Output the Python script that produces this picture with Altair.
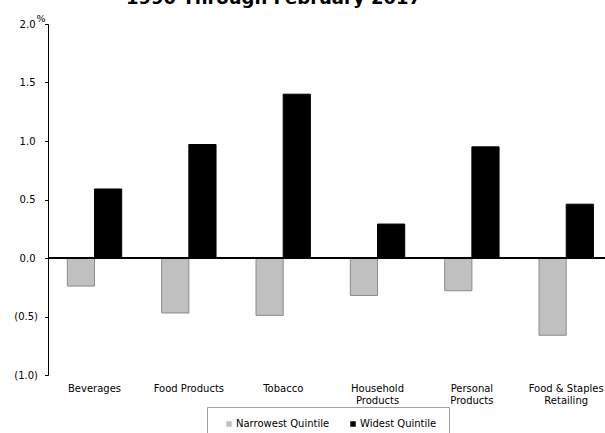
import altair as alt
import pandas as pd

# Sector categories and average monthly relative returns (%) by quintile
categories = [
    "Beverages",
    "Food Products",
    "Tobacco",
    "Household Products",
    "Personal Products",
    "Food & Staples Retailing",
]
narrowest = [-0.24, -0.47, -0.49, -0.32, -0.28, -0.66]
widest = [0.59, 0.97, 1.40, 0.29, 0.95, 0.46]
series_names = ["Narrowest Quintile", "Widest Quintile"]
series_colors = ["#c0c0c0", "#000000"]
series_strokes = ["#8a8a8a", "#000000"]
y_ticks = [-1.0, -0.5, 0.0, 0.5, 1.0, 1.5, 2.0]

# Two-line tick labels for the longer category names
label_lines = {
    "Household Products": ["Household", "Products"],
    "Personal Products": ["Personal", "Products"],
    "Food & Staples Retailing": ["Food & Staples", "Retailing"],
}

rows = []
for cat, n, w in zip(categories, narrowest, widest):
    rows.append({"sector": cat, "series": series_names[0], "value": n})
    rows.append({"sector": cat, "series": series_names[1], "value": w})
df = pd.DataFrame(rows)

label_expr = ""
for k, v in label_lines.items():
    label_expr += f"datum.label == '{k}' ? ['{v[0]}', '{v[1]}'] : "
label_expr += "datum.label"

FONT = "DejaVu Sans"

x_enc = alt.X(
    "sector:N",
    sort=categories,
    scale=alt.Scale(paddingInner=0.4234, paddingOuter=0.1637, align=0.625),
    axis=alt.Axis(
        title=None,
        labelAngle=0,
        domain=False,
        ticks=False,
        labelPadding=8,
        labelFontSize=10,
        labelLineHeight=12.7,
        labelExpr=label_expr,
        labelColor="black",
        labelFont=FONT,
    ),
)

y_enc = alt.Y(
    "value:Q",
    scale=alt.Scale(domain=[-1.0, 2.0], nice=False, zero=False),
    axis=alt.Axis(
        title="%",
        titleAngle=0,
        titleFontSize=9.5,
        titleFontWeight="normal",
        titleFont=FONT,
        titleColor="black",
        titleX=-12,
        titleY=-3,
        titleAlign="left",
        titleBaseline="alphabetic",
        values=y_ticks,
        labelExpr="datum.value < 0 ? '(' + format(-datum.value, '.1f') + ')' : format(datum.value, '.1f')",
        grid=False,
        domainColor="black",
        tickColor="black",
        tickSize=3.5,
        labelPadding={"condition": {"test": "datum.value < 0", "value": 7}, "value": 9.5},
        labelFontSize=10,
        labelFont=FONT,
        labelColor="black",
    ),
)

bars = alt.Chart(df).mark_bar(strokeWidth=1).encode(
    x=x_enc,
    xOffset=alt.XOffset(
        "series:N", sort=series_names, scale=alt.Scale(paddingInner=0, paddingOuter=0)
    ),
    y=y_enc,
    color=alt.Color(
        "series:N",
        sort=series_names,
        scale=alt.Scale(domain=series_names, range=series_colors),
        legend=alt.Legend(
            title=None,
            orient="none",
            legendX=159,
            legendY=383,
            direction="horizontal",
            strokeColor="#a0a0a0",
            fillColor="white",
            padding=12,
            symbolType="square",
            symbolSize=30,
            symbolOffset=5,
            symbolStrokeWidth=0,
            labelFontSize=10,
            labelFont=FONT,
            labelColor="black",
            labelOffset=2,
            columnPadding=13,
        ),
    ),
    stroke=alt.Stroke(
        "series:N",
        sort=series_names,
        scale=alt.Scale(domain=series_names, range=series_strokes),
        legend=None,
    ),
)

zero_line = alt.Chart(df).mark_rule(color="black", strokeWidth=1.3).encode(
    y=alt.datum(0)
)

chart = (
    alt.layer(bars, zero_line)
    .properties(
        width=557,
        height=351,
        autosize=alt.AutoSizeParams(type="none"),
        padding={"left": 48, "top": 24, "right": 0, "bottom": 58},
        title=alt.TitleParams(
            text="1990 Through February 2017",
            fontSize=18,
            fontWeight="bold",
            font=FONT,
            anchor="middle",
            dx=-53,
            dy=-1,
            color="black",
        ),
    )
    .configure(background="white")
    .configure_view(strokeWidth=0, stroke=None)
)

chart.save("out.html", embed_options={"renderer": "svg", "actions": False})
